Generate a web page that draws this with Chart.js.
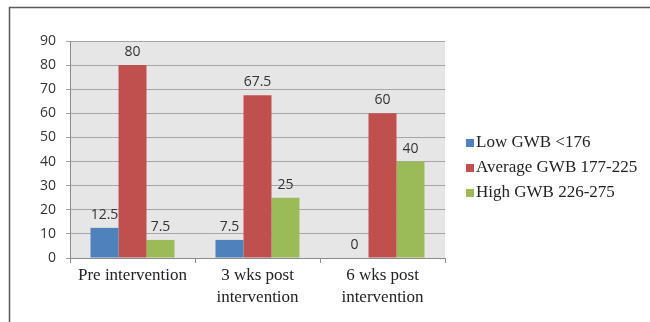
<!DOCTYPE html>
<html>
<head>
<meta charset="utf-8">
<style>
  html, body { margin: 0; padding: 0; background: #fff; }
  #wrap { position: relative; width: 650px; height: 322px; }
</style>
<script src="https://cdn.jsdelivr.net/npm/chart.js@4/dist/chart.umd.min.js"></script>
</head>
<body>
<div id="wrap"><canvas id="c" width="650" height="322"></canvas></div>
<script>
// Categories (multi-line labels) and series values
const categories = [
  ['Pre intervention'],
  ['3 wks post', 'intervention'],
  ['6 wks post', 'intervention']
];
const seriesNames = ['Low GWB <176', 'Average GWB 177-225', 'High GWB 226-275'];
const lowGWB = [12.5, 7.5, 0];
const averageGWB = [80, 67.5, 60];
const highGWB = [7.5, 25, 40];
const yTicks = [0, 10, 20, 30, 40, 50, 60, 70, 80, 90];

const colors = ['#4F81BD', '#C0504D', '#9BBB59'];
const sansFont = '"Open Sans", "Liberation Sans", sans-serif';
const serifFont = '"Liberation Serif", "DejaVu Serif", serif';

// Frame, plot background, value labels and side legend
const decor = {
  id: 'decor',
  beforeDraw(chart) {
    const { ctx, chartArea: a } = chart;
    ctx.save();
    ctx.fillStyle = '#E6E6E6';
    ctx.fillRect(a.left, a.top, a.right - a.left, a.bottom - a.top);
    // outer frame (top and left edges)
    ctx.strokeStyle = '#5a5a5a';
    ctx.lineWidth = 1.5;
    ctx.beginPath();
    ctx.moveTo(650, 7.5);
    ctx.lineTo(9.5, 7.5);
    ctx.lineTo(9.5, 322);
    ctx.stroke();
    ctx.restore();
  },
  afterDatasetsDraw(chart) {
    const { ctx } = chart;
    ctx.save();
    ctx.font = '14px ' + sansFont;
    ctx.fillStyle = '#333';
    ctx.textAlign = 'center';
    ctx.textBaseline = 'bottom';
    chart.data.datasets.forEach((ds, i) => {
      chart.getDatasetMeta(i).data.forEach((bar, j) => {
        ctx.fillText(String(ds.data[j]), bar.x, bar.y - 6);
      });
    });
    // legend
    ctx.font = '17px ' + serifFont;
    ctx.textAlign = 'left';
    ctx.textBaseline = 'middle';
    chart.data.datasets.forEach((ds, i) => {
      const y = 143 + i * 25;
      ctx.fillStyle = ds.backgroundColor;
      ctx.fillRect(466, y - 4, 8, 8);
      ctx.fillStyle = '#222';
      ctx.fillText(ds.label, 476, y);
    });
    ctx.restore();
  }
};

new Chart(document.getElementById('c'), {
  type: 'bar',
  data: {
    labels: categories,
    datasets: [
      { label: seriesNames[0], data: lowGWB, backgroundColor: colors[0] },
      { label: seriesNames[1], data: averageGWB, backgroundColor: colors[1] },
      { label: seriesNames[2], data: highGWB, backgroundColor: colors[2] }
    ]
  },
  options: {
    responsive: false,
    animation: false,
    devicePixelRatio: 1,
    layout: { padding: { top: 41, right: 205, bottom: 0, left: 0 } },
    datasets: { bar: { categoryPercentage: 0.672, barPercentage: 1.0 } },
    plugins: { legend: { display: false }, tooltip: { enabled: false } },
    scales: {
      x: {
        offset: true,
        grid: { offset: true, drawOnChartArea: false, tickLength: 5, color: '#8c8c8c' },
        border: { color: '#8c8c8c' },
        ticks: { color: '#222', font: { family: serifFont, size: 17, lineHeight: 1.3 }, padding: 1, maxRotation: 0 },
        afterFit(s) { s.height = 64; }
      },
      y: {
        min: 0, max: 90,
        afterBuildTicks(s) { s.ticks = yTicks.map(v => ({ value: v })); },
        grid: { color: '#a6a6a6', tickLength: 4 },
        border: { color: '#8c8c8c' },
        ticks: { color: '#333', font: { family: sansFont, size: 14 }, padding: 10 },
        afterFit(s) { s.width = 70; }
      }
    }
  },
  plugins: [decor]
});
</script>
</body>
</html>
